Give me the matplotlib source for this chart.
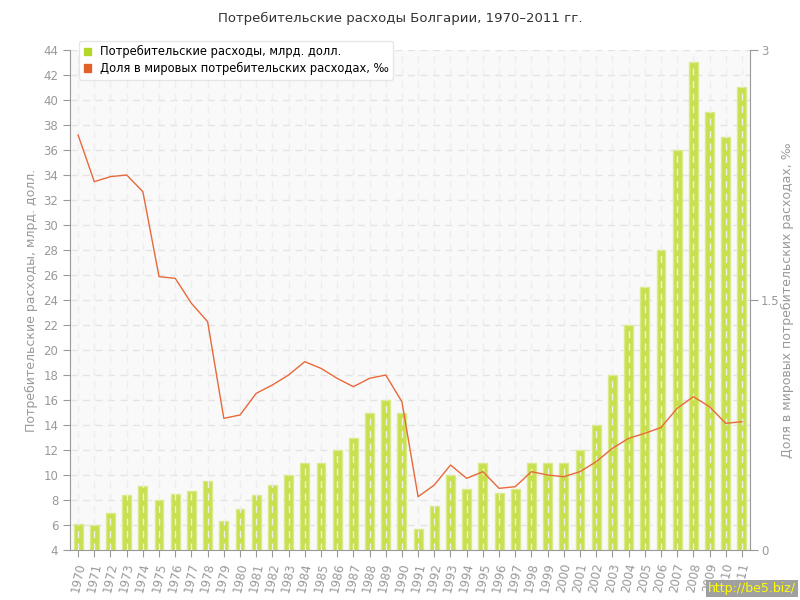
import matplotlib.pyplot as plt
import numpy as np

# data
years = [str(y) for y in range(1970, 2012)]
spending = [6.1, 6.0, 7.0, 8.4, 9.1, 8.0, 8.5, 8.7, 9.5, 6.3,
            7.3, 8.4, 9.2, 10.0, 11.0, 11.0, 12.0, 13.0, 15.0, 16.0,
            15.0, 5.7, 7.5, 10.0, 8.9, 11.0, 8.6, 8.9, 11.0, 11.0,
            11.0, 12.0, 14.0, 18.0, 22.0, 25.0, 28.0, 36.0, 43.0, 39.0,
            37.0, 41.0]
share = [2.49, 2.21, 2.24, 2.25, 2.15, 1.64, 1.63, 1.48, 1.37, 0.79,
         0.81, 0.94, 0.99, 1.05, 1.13, 1.09, 1.03, 0.98, 1.03, 1.05,
         0.89, 0.32, 0.39, 0.51, 0.43, 0.47, 0.37, 0.38, 0.47, 0.45,
         0.44, 0.47, 0.53, 0.61, 0.67, 0.70, 0.735, 0.85, 0.92, 0.86,
         0.76, 0.77]
left_ticks = list(range(4, 45, 2))
right_ticks = [0, 1.5, 3]

title = "Потребительские расходы Болгарии, 1970–2011 гг."
bar_label = "Потребительские расходы, млрд. долл."
line_label = "Доля в мировых потребительских расходах, ‰"

grey = "#999999"
plt.rcParams['font.family'] = ['DejaVu Sans']

fig = plt.figure(figsize=(8, 6), dpi=100)
ax = fig.add_axes([0.0875, 0.0833, 0.85, 0.8334])
ax.set_facecolor("#f9f9f9")

x = np.arange(len(years))

# horizontal grid behind the bars, vertical dashed lines over them
ax.set_yticks(left_ticks)
for v in left_ticks[1:]:
    ax.axhline(v, color="#e4e4e4", linestyle=(0, (5, 4)), linewidth=1, zorder=1)
ax.bar(x, np.array(spending) - 4, bottom=4, width=0.55, color="#c8e04e",
       edgecolor="#d9ea8a", linewidth=1, zorder=2, label=bar_label)
for xi in x:
    ax.axvline(xi, color="#eeeeee", linestyle=(0, (5, 4)), linewidth=1, zorder=3)

ax.set_xlim(-0.5, len(years) - 0.5)
ax.set_ylim(4, 44)
ax.set_xticks(x)
ax.set_xticklabels(years, rotation=78, ha="center", fontsize=8.5, color="#aaaaaa")
ax.tick_params(axis="y", labelsize=8.5, colors=grey, length=5)
ax.tick_params(axis="x", colors=grey, length=5)
for s in ["top", "right"]:
    ax.spines[s].set_visible(False)
for s in ["left", "bottom"]:
    ax.spines[s].set_color(grey)
ax.set_ylabel(bar_label, color=grey, fontsize=9)

ax2 = ax.twinx()
ax2.plot(x, share, color="#e8693a", linewidth=1, zorder=4, label=line_label)
ax2.set_ylim(0, 3)
ax2.set_yticks(right_ticks)
ax2.set_yticklabels(["0", "1.5", "3"])
ax2.tick_params(axis="y", labelsize=8.5, colors=grey, length=6, pad=2)
for s in ["top", "left", "bottom"]:
    ax2.spines[s].set_visible(False)
ax2.spines["right"].set_color(grey)
ax2.set_ylabel(line_label, color=grey, fontsize=9)
ax2.yaxis.set_label_coords(1.045, 0.5)

# legend
h1 = plt.Rectangle((0, 0), 1, 1, color="#b4d82a")
h2 = plt.Rectangle((0, 0), 1, 1, color="#e0622a")
leg = ax2.legend([h1, h2], [bar_label, line_label], loc="upper left",
                 bbox_to_anchor=(0.005, 1.03), fontsize=8.3, frameon=True,
                 fancybox=True, handlelength=0.6, handleheight=0.6,
                 handletextpad=0.8, labelspacing=0.3, borderpad=0.4)
leg.get_frame().set_edgecolor("#e6e6e6")
leg.get_frame().set_facecolor("white")
leg.get_frame().set_alpha(1)

fig.text(0.5, 0.97, title, ha="center", va="center", fontsize=9.5, color="#333333")
fig.text(0.995, 0.008, "http://be5.biz/", ha="right", va="bottom", fontsize=9,
         color="#ffff00", bbox=dict(facecolor="#a0a0a0", edgecolor="none", pad=1.5))

fig.savefig("out.png", dpi=100)
